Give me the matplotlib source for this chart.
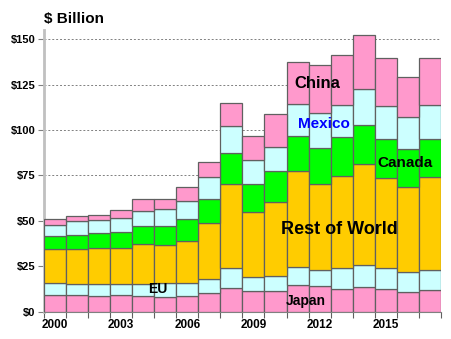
import matplotlib
matplotlib.use("Agg")
import matplotlib.pyplot as plt
import numpy as np

plt.rcParams['font.family'] = ['Liberation Sans', 'DejaVu Sans']

years = list(range(2000, 2018))

# cumulative tops, $ billion
japan_top  = [9.2, 9.0, 8.5, 9.0, 8.8, 8.3, 8.5, 10.1, 13.2, 11.2, 11.2, 14.5, 14.0, 12.7, 13.4, 12.3, 10.7, 11.9]
eu_top     = [15.6, 15.4, 15.1, 15.1, 15.4, 15.6, 15.6, 17.8, 23.9, 18.9, 19.8, 24.4, 23.0, 23.9, 25.9, 23.9, 22.0, 23.1]
row_top    = [34.4, 34.4, 34.9, 34.9, 37.1, 36.6, 39.1, 48.7, 70.5, 54.7, 60.6, 77.6, 70.2, 74.6, 81.3, 73.5, 68.8, 74.3]
canada_top = [41.5, 42.4, 43.3, 43.7, 47.0, 47.0, 50.9, 61.9, 87.2, 70.2, 77.3, 96.6, 90.1, 96.0, 102.6, 94.9, 89.6, 94.9]
mexico_top = [47.9, 49.8, 50.3, 51.4, 55.3, 56.5, 60.8, 74.0, 102.3, 83.4, 90.9, 114.2, 109.3, 113.6, 122.5, 113.3, 107.0, 113.6]
china_top  = [50.9, 52.9, 53.4, 55.8, 62.2, 62.2, 68.5, 82.4, 114.8, 96.8, 108.7, 137.3, 135.8, 141.0, 152.2, 139.4, 129.2, 139.5]

tops = [japan_top, eu_top, row_top, canada_top, mexico_top, china_top]
colors = ['#FF99CC', '#CCFFFF', '#FFCC00', '#00FF00', '#CCFFFF', '#FF99CC']

fig = plt.figure(figsize=(4.52, 3.39), dpi=100)
ax = fig.add_axes([0.0973, 0.0805, 0.878, 0.831])

x = np.arange(len(years))
prev = np.zeros(len(years))
for top, c in zip(tops, colors):
    top = np.array(top)
    ax.bar(x, top - prev, bottom=prev, width=1.0, color=c,
           edgecolor='#606060', linewidth=0.9, zorder=3)
    prev = top

ax.set_xlim(-0.5, 17.5)
ax.set_ylim(0, 155)

# gridlines
ax.set_yticks([0, 25, 50, 75, 100, 125, 150])
ax.set_yticklabels(['$0', '$25', '$50', '$75', '$100', '$125', '$150'],
                   fontsize=8, fontweight='bold')
ax.yaxis.grid(True, linestyle=(0, (2, 2)), color='#808080', linewidth=0.7, zorder=0)
ax.set_axisbelow(True)

# x ticks: marks at boundaries, labels every third year
ax.set_xticks(np.arange(-0.5, 18, 1.0))
ax.set_xticklabels([])
ax.set_xticks(np.arange(0, 18, 3), minor=True)
ax.set_xticklabels([str(y) for y in years[::3]], minor=True,
                   fontsize=8.5, fontweight='bold')
ax.tick_params(axis='x', which='minor', length=0, pad=5)
ax.tick_params(axis='x', which='major', length=4, color='#606060', width=0.8)
ax.tick_params(axis='y', length=4, color='#808080', width=0.8, pad=2)

for s in ['top', 'right']:
    ax.spines[s].set_visible(False)
ax.spines['left'].set_color('#C0C0C0')
ax.spines['left'].set_linewidth(2)
ax.spines['bottom'].set_color('#808080')
ax.spines['bottom'].set_linewidth(0.8)

fig.text(0.097, 0.945, '$ Billion', fontsize=11, fontweight='bold', va='center', ha='left')

ax.text(11.9, 125.8, 'China', fontsize=12, fontweight='bold', ha='center', va='center', zorder=5)
ax.text(12.2, 103.5, 'Mexico', fontsize=11, fontweight='bold', color='#0000FF',
        ha='center', va='center', zorder=5)
ax.text(15.86, 81.9, 'Canada', fontsize=11, fontweight='bold', ha='center', va='center', zorder=5)
ax.text(12.9, 45.5, 'Rest of World', fontsize=13, fontweight='bold', ha='center', va='center', zorder=5)
ax.text(4.66, 12.3, 'EU', fontsize=10, fontweight='bold', ha='center', va='center', zorder=5)
ax.text(11.39, 6.1, 'Japan', fontsize=10, fontweight='bold', ha='center', va='center', zorder=5)

fig.savefig('out.png', dpi=100)
